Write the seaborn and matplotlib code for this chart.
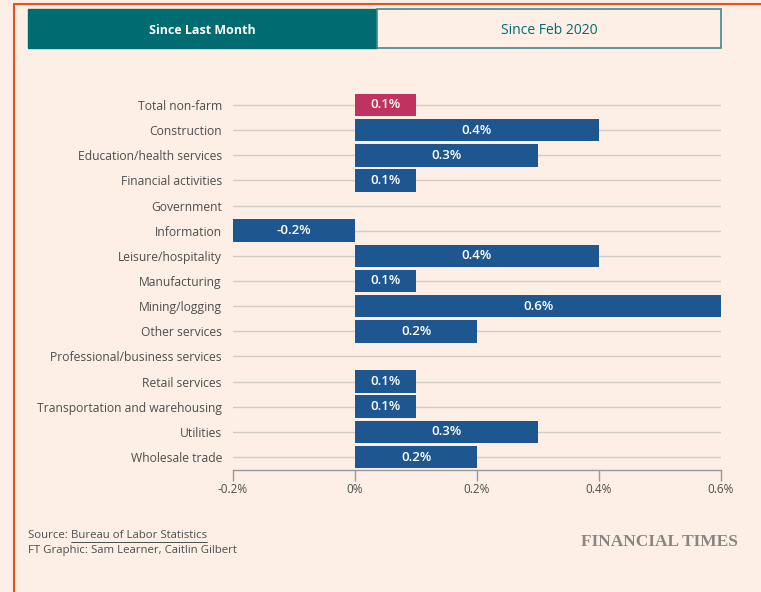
import matplotlib
matplotlib.use("Agg")
import matplotlib.pyplot as plt
import seaborn as sns
import pandas as pd
from matplotlib.patches import Rectangle
from matplotlib.lines import Line2D

# values (% change since last month)
sectors = ['Total non-farm', 'Construction', 'Education/health services',
           'Financial activities', 'Government', 'Information',
           'Leisure/hospitality', 'Manufacturing', 'Mining/logging',
           'Other services', 'Professional/business services',
           'Retail services', 'Transportation and warehousing',
           'Utilities', 'Wholesale trade']
changes = [0.1, 0.4, 0.3, 0.1, 0.0, -0.2, 0.4, 0.1, 0.6, 0.2, 0.0,
           0.1, 0.1, 0.3, 0.2]
kinds = ['total'] + ['sector'] * 14
xticks = [-0.2, 0.0, 0.2, 0.4, 0.6]
xtick_labels = ['-0.2%', '0%', '0.2%', '0.4%', '0.6%']

bg = '#fdefe5'
blue = '#1e5690'
pink = '#c0325f'
teal = '#006b70'
grey = '#4d4d4d'

df = pd.DataFrame({'sector': sectors, 'change': changes, 'kind': kinds})

sns.set_theme(style='white')
plt.rcParams['font.family'] = ['Open Sans', 'DejaVu Sans']

fig = plt.figure(figsize=(7.61, 5.92), dpi=100, facecolor=bg)
W, H = 761, 592

def fx(px):
    return px / W

def fy(py):
    return 1 - py / H

ax = fig.add_axes([fx(233), fy(469.6), fx(721) - fx(233), fy(92.4) - fy(469.6)])
ax.set_facecolor(bg)

sns.barplot(data=df, y='sector', x='change', hue='kind', orient='h',
            palette={'total': pink, 'sector': blue}, dodge=False,
            width=0.9, legend=False, ax=ax, zorder=3, saturation=1)

for p in ax.patches:
    p.set_linewidth(0)

# value labels
for i, v in enumerate(changes):
    if v == 0:
        continue
    ax.text(v / 2, i, f'{v:.1f}%', color='white', ha='center', va='center',
            fontsize=9.5, fontweight='semibold', zorder=4)

ax.set_xlim(-0.2, 0.6)
ax.set_ylim(14.5, -0.5)
ax.set_xticks(xticks)
ax.set_xticklabels(xtick_labels, fontsize=8.5, color=grey)
ax.tick_params(axis='x', length=8, width=1, color='#999999', pad=2, direction='out')
ax.tick_params(axis='y', length=0, pad=8, labelsize=8.7, labelcolor=grey)
ax.xaxis.set_ticks_position('bottom')
ax.set_xlabel('')
ax.set_ylabel('')
ax.grid(axis='y', color='#d3ccc6', linewidth=1, zorder=0)
ax.grid(axis='x', visible=False)
for s in ['top', 'right', 'left']:
    ax.spines[s].set_visible(False)
ax.spines['bottom'].set_color('#999999')
ax.spines['bottom'].set_linewidth(1)

# orange frame on left and top
fig.add_artist(Line2D([fx(13.5), fx(13.5)], [0, fy(4)], color='#e6531d', lw=1.5))
fig.add_artist(Line2D([fx(13.5), 1], [fy(4), fy(4)], color='#e6531d', lw=1.5))

# tab buttons
fig.add_artist(Rectangle((fx(28), fy(48)), fx(377) - fx(28), fy(9) - fy(48),
                         facecolor=teal, edgecolor=teal, lw=1))
fig.add_artist(Rectangle((fx(377), fy(48)), fx(721) - fx(377), fy(9) - fy(48),
                         facecolor=bg, edgecolor='#3c8a8e', lw=1.2))
fig.text(fx(202), fy(30), 'Since Last Month', color='white', fontsize=9,
         fontweight='bold', ha='center', va='center')
fig.text(fx(549), fy(30), 'Since Feb 2020', color=teal, fontsize=10,
         ha='center', va='center')

# footer
t1 = fig.text(fx(28), fy(536), 'Source: ', fontsize=8.2, color=grey,
              ha='left', va='center')
fig.canvas.draw()
r = fig.canvas.get_renderer()
bb = t1.get_window_extent(r)
t2 = fig.text(bb.x1 / W, fy(536), 'Bureau of Labor Statistics', fontsize=8.2,
              color=grey, ha='left', va='center')
bb2 = t2.get_window_extent(r)
fig.add_artist(Line2D([bb2.x0 / W, bb2.x1 / W], [bb2.y0 / H, bb2.y0 / H],
                      color=grey, lw=0.7))
fig.text(fx(28), fy(550), 'FT Graphic: Sam Learner, Caitlin Gilbert',
         fontsize=8.2, color=grey, ha='left', va='center')
fig.text(fx(738), fy(542), 'FINANCIAL TIMES', fontsize=12.5, color='#8a8580',
         family=['Liberation Serif', 'DejaVu Serif'], fontweight='bold',
         ha='right', va='center')

fig.savefig('out.png', dpi=100, facecolor=bg)
